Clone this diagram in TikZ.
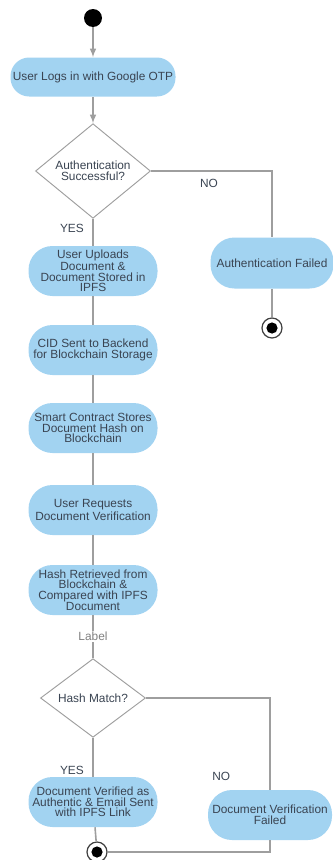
\documentclass[tikz,border=0pt]{standalone}
\usepackage{fontspec}
\setmainfont{Liberation Sans}
\usetikzlibrary{shapes.geometric}
\usetikzlibrary{arrows}

\definecolor{actblue}{HTML}{A2D3F1}
\definecolor{flowgray}{HTML}{9E9E9E}
\definecolor{txtgray}{HTML}{3A4452}

\begin{document}
\begin{tikzpicture}[x=0.75pt,y=-0.75pt,
		every node/.style={font=\fontsize{8.9}{8}\selectfont, text=txtgray},
		activity/.style={rectangle, fill=actblue, rounded corners=18pt, minimum width=96.75pt, minimum height=37.5pt, inner sep=0pt, align=center},
		decision/.style={diamond, draw=flowgray, fill=white, line width=0.7pt, inner sep=0pt, align=center},
		flow/.style={draw=flowgray, line width=1.2pt},
		startdot/.style={circle, fill=black, minimum size=13.5pt, inner sep=0pt},
		enddot/.style={circle, draw=black!75, line width=0.9pt, fill=white, minimum size=15pt, inner sep=0pt, path picture={\fill[black] (path picture bounding box.center) circle (4.2pt);}}]
		\useasboundingbox (0,0) rectangle (332,860);
		% first part : login
		\node[startdot] (start) at (93,18) {};
		\node[activity, minimum width=123.75pt, minimum height=29.25pt, rounded corners=14pt] (login) at (93,77) {User Logs in with Google OTP};
		\node[decision, minimum width=86.25pt, minimum height=48pt] (auth) at (93,171) {Authentication\\Successful?};
		\node[activity, minimum width=92.25pt, minimum height=38.25pt] (authfail) at (272,263) {Authentication Failed};
		\node[enddot] (endA) at (272,328) {};
		% second part : storage
		\node[activity] (upload) at (93,271) {User Uploads\\Document \&\\Document Stored in\\IPFS};
		\node[activity] (cid) at (93,350) {CID Sent to Backend\\for Blockchain Storage};
		\node[activity] (contract) at (93,428) {Smart Contract Stores\\Document Hash on\\Blockchain};
		\node[activity] (request) at (93,510) {User Requests\\Document Verification};
		\node[activity] (retrieve) at (93,590) {Hash Retrieved from\\Blockchain \&\\Compared with IPFS\\Document};
		% third part : verification
		\node[decision, minimum width=78.75pt, minimum height=45pt] (match) at (93,698) {Hash Match?};
		\node[activity] (verified) at (93,802) {Document Verified as\\Authentic \& Email Sent\\with IPFS Link};
		\node[activity, minimum width=93pt] (verfail) at (270,815) {Document Verification\\Failed};
		\node[enddot] (endB) at (97,852) {};

		\draw[flow,-latex] (start) -- (login);
		\draw[flow,-latex] (login) -- (auth);
		\draw[flow] (auth.east) -| (authfail.north) node[pos=0.24, below=2pt]{NO};
		\draw[flow] (auth.south) -- (upload.north) node[pos=0.36, left=3pt]{YES};
		\draw[flow] (authfail) -- (endA);
		\draw[flow] (upload) -- (cid);
		\draw[flow] (cid) -- (contract);
		\draw[flow] (contract) -- (request);
		\draw[flow] (request) -- (retrieve);
		\draw[flow] (retrieve) -- (match) node[midway, fill=white, text=black!50, inner sep=1pt]{Label};
		\draw[flow] (match.south) -- (verified.north) node[pos=0.83, left=3pt]{YES};
		\draw[flow] (match.east) -| (verfail.north) node[pos=0.93, left=26pt]{NO};
		\draw[flow] (verified) -- (endB);
		\draw[flow] (verfail.south) -- (verfail.south |- endB) -- (endB);
	\end{tikzpicture}
\end{document}
